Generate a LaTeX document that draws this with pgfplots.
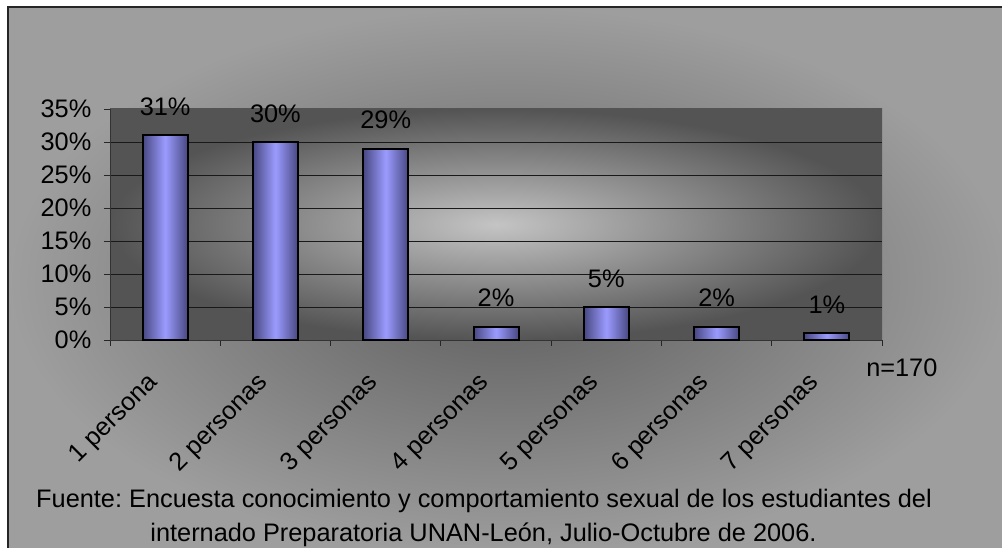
\documentclass[border=0pt]{standalone}
\usepackage{pgfplots}
\pgfplotsset{compat=1.18}
\usepackage{fontspec}
\setmainfont{Liberation Sans}
\frenchspacing
\newcommand\fs{\fontsize{19}{22.8}\selectfont}
\definecolor{pbin}{RGB}{196,196,196}
\definecolor{pbout}{RGB}{84,84,84}
\definecolor{obin}{RGB}{92,92,92}
\definecolor{obout}{RGB}{158,158,158}
\definecolor{baredge}{RGB}{72,72,130}
\definecolor{barmid}{RGB}{155,155,255}
\pgfdeclareradialshading{plotbg}{\pgfpoint{0bp}{0bp}}{color(0bp)=(pbin); color(25bp)=(pbout); color(50bp)=(pbout)}
\pgfdeclareradialshading{outerbg}{\pgfpoint{0bp}{0bp}}{color(0bp)=(obin); color(25bp)=(obout); color(50bp)=(obout)}
\pgfplotsset{
  mybar/.style={ybar, bar shift=0pt, bar width=33.75pt, draw=black, line width=1.5pt,
    left color=baredge, right color=baredge, middle color=barmid,
    nodes near coords={\pgfmathprintnumber{\pgfplotspointmeta}\%},
    every node near coord/.append style={anchor=south, inner sep=0pt, yshift=14pt, font=\fs, text=black}},
}
\begin{document}
\begin{tikzpicture}
\useasboundingbox (0,0) rectangle (751.5pt,411pt);
\begin{scope}
\clip (0,0) rectangle (751.5pt,411pt);
\fill[white] (0,0) rectangle (751.5pt,411pt);
\shade[shading=outerbg] (6pt,-6pt) rectangle (757.5pt,405.75pt);
\draw[line width=1.1pt, black!85] (6pt,-6pt) -- (6pt,405.75pt) -- (757.5pt,405.75pt);
\end{scope}
\begin{axis}[
  at={(82.5pt,156pt)}, anchor=south west,
  scale only axis, width=579pt, height=173.25pt,
  xmin=-0.5, xmax=6.5, ymin=0, ymax=35,
  axis lines*=left,
  axis line style={-, black!80, line width=0.7pt},
  axis background/.style={shading=plotbg},
  /pgf/number format/assume math mode=true,
  tick align=outside,
  major tick length=4.5pt,
  minor tick length=4.5pt,
  tick style={black!85, line width=0.6pt},
  ytick={0,5,...,35},
  yticklabel={\pgfmathprintnumber{\tick}\%},
  yticklabel style={font=\fs, xshift=-6pt},
  minor ytick={5,10,...,30},
  yminorgrids,
  minor grid style={black!90, line width=0.6pt},
  xtick={-0.5,0.5,...,6.5},
  xticklabels={},
  extra x ticks={0,1,2,3,4,5,6},
  extra x tick labels={1 persona,2 personas,3 personas,4 personas,5 personas,6 personas,7 personas},
  extra x tick style={major tick length=0pt, xticklabel style={font=\fs, rotate=45, anchor=east, xshift=-23.3pt, yshift=-14.9pt}},
  clip=false,
]
\addplot[mybar] coordinates {(0,31)};
\addplot[mybar] coordinates {(1,30)};
\addplot[mybar] coordinates {(2,29)};
\addplot[mybar] coordinates {(3,2)};
\addplot[mybar] coordinates {(4,5)};
\addplot[mybar] coordinates {(5,2)};
\addplot[mybar] coordinates {(6,1)};
\end{axis}
\node[anchor=base west, inner sep=0pt, font=\fs] at (649.5pt,128.25pt) {n=170};
\node[anchor=base, inner sep=0pt, font=\fs] at (363pt,30pt) {Fuente: Encuesta conocimiento y comportamiento sexual de los estudiantes del};
\node[anchor=base, inner sep=0pt, font=\fs] at (362.6pt,4.5pt) {internado Preparatoria UNAN-León, Julio-Octubre de 2006.};
\end{tikzpicture}
\end{document}
